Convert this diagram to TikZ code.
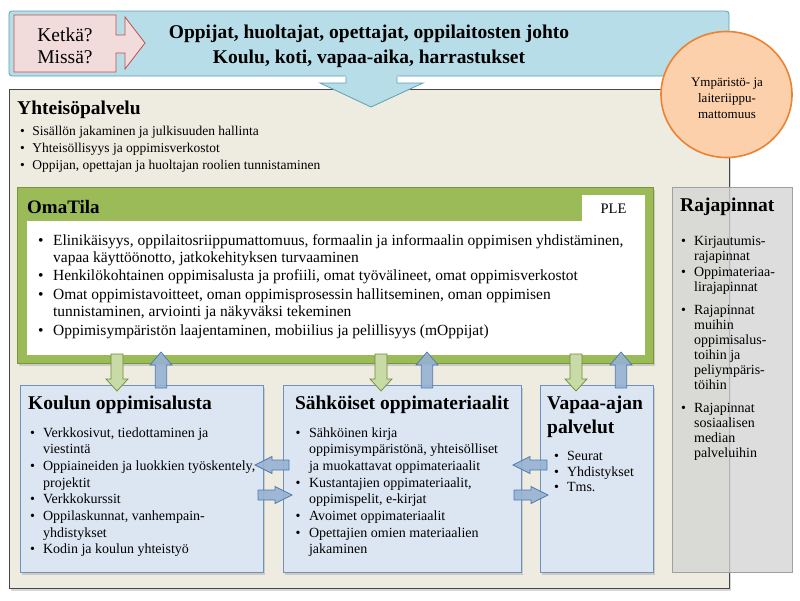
\documentclass[tikz,border=0pt]{standalone}
\usepackage{fontspec}
\setmainfont{Liberation Serif}
\usetikzlibrary{shadows,shapes.geometric}
\definecolor{bannerfill}{RGB}{183,221,232}
\definecolor{bannerline}{RGB}{93,160,180}
\definecolor{pinkfill}{RGB}{242,220,219}
\definecolor{pinkline}{RGB}{192,80,77}
\definecolor{circfill}{RGB}{251,208,170}
\definecolor{circline}{RGB}{236,130,50}
\definecolor{beige}{RGB}{238,236,225}
\definecolor{boxline}{RGB}{70,70,70}
\definecolor{omagreen}{RGB}{155,187,89}
\definecolor{omaline}{RGB}{120,150,60}
\definecolor{lblue}{RGB}{220,230,242}
\definecolor{lblueline}{RGB}{110,145,190}
\definecolor{garrfill}{RGB}{200,218,165}
\definecolor{garrline}{RGB}{110,140,55}
\definecolor{barrfill}{RGB}{150,178,212}
\definecolor{barrline}{RGB}{80,120,170}
\definecolor{rajfill}{RGB}{212,212,212}
\definecolor{rajline}{RGB}{160,160,160}
\newcommand{\fs}[2]{\fontsize{#1}{#2}\selectfont}
\begin{document}
\begin{tikzpicture}[x=1pt,y=-1pt,
  panel/.style={anchor=north west, inner sep=0pt, outer sep=0pt},
  softshadow/.style={drop shadow={opacity=0.3, shadow xshift=2pt, shadow yshift=-2.5pt}},
  bluebox/.style={panel, fill=lblue, draw=lblueline, line width=0.8pt, softshadow},
  txt/.style={anchor=base west, inner sep=0pt},
  ttl/.style={txt, font=\bfseries\fs{19.5}{24}},
  garr/.style={fill=garrfill, draw=garrline, line width=0.7pt},
  barr/.style={fill=barrfill, draw=barrline, line width=0.7pt, fill opacity=0.9},
  downarr/.pic={\path[pic actions] (-6,0) -- (6,0) -- (6,25) -- (11,25) -- (0,37) -- (-11,25) -- (-6,25) -- cycle;},
  uparr/.pic={\path[pic actions] (0,0) -- (11,13) -- (5.7,13) -- (5.7,36) -- (-5.7,36) -- (-5.7,13) -- (-11,13) -- cycle;},
  leftarr/.pic={\path[pic actions] (0,0) -- (17,-8.5) -- (17,-5) -- (34,-5) -- (34,5) -- (17,5) -- (17,8.5) -- cycle;},
]
\fill[white] (0,0) rectangle (800,600);
\useasboundingbox (0,0) rectangle (800,600);

% banner
\node[panel, fill=bannerfill, draw=bannerline, line width=0.8pt, rounded corners=3pt, minimum width=720pt, minimum height=65pt] (banner) at (9,11) {};
\draw[fill=pinkfill, draw=pinkline, line width=0.8pt] (14,15) -- (116,15) -- (116,35) -- (125,35) -- (125,17) -- (145,43) -- (125,69) -- (125,53) -- (116,53) -- (116,72) -- (14,72) -- cycle;
\node[font=\fs{19.5}{22.5}, align=center, inner sep=0pt] (who) at (65,46) {Ketkä?\\Missä?};
\node[font=\bfseries\fs{19.5}{25}, align=center, inner sep=0pt] (wholist) at (369,46) {Oppijat, huoltajat, opettajat, oppilaitosten johto\\Koulu, koti, vapaa-aika, harrastukset};

% community box
\node[panel, fill=beige, draw=boxline, line width=1pt, softshadow, minimum width=720pt, minimum height=499pt] (yp) at (9,89) {};
\fill[bannerfill] (346,75) -- (397,75) -- (397,83) -- (423,83) -- (371,107) -- (320,83) -- (346,83) -- cycle;
\draw[bannerline, line width=0.8pt] (397,76.5) -- (397,83) -- (423,83) -- (371,107) -- (320,83) -- (346,83) -- (346,76.5);

% circle
\node[ellipse, fill=circfill, draw=circline, line width=1.6pt, minimum width=131pt, minimum height=126pt, inner sep=0pt] (env) at (726.5,94.5) {};
\node[font=\fs{13}{16}, align=center, inner sep=0pt] (envtext) at (727,98) {Ympäristö- ja\\laiteriippu-\\mattomuus};

\node[ttl] (yptitle) at (17,114.5) {Yhteisöpalvelu};
\node[txt, font=\fs{13.5}{17}] (ypitems) at (20,135.5) {\begin{tabular}[t]{@{}l@{\hspace{7.5pt}}l@{}}
\textbullet & Sisällön jakaminen ja julkisuuden hallinta\\
\textbullet & Yhteisöllisyys ja oppimisverkostot\\
\textbullet & Oppijan, opettajan ja huoltajan roolien tunnistaminen
\end{tabular}};

% OmaTila
\node[panel, fill=omagreen, draw=omaline, line width=1pt, softshadow, minimum width=636pt, minimum height=176pt] (oma) at (17,187) {};
\node[panel, fill=white, minimum width=618pt, minimum height=134pt] (omabody) at (27,221) {};
\node[panel, fill=white, minimum width=63pt, minimum height=26.5pt, font=\fs{14.5}{17}] (ple) at (582,195) {PLE};
\node[txt, font=\bfseries\fs{19}{22}] (omatitle) at (27,213.5) {OmaTila};
\node[txt, font=\fs{15.5}{17.3}] (omaitems) at (38,245) {\begin{tabular}[t]{@{}l@{\hspace{9.5pt}}l@{}}
\textbullet & Elinikäisyys, oppilaitosriippumattomuus, formaalin ja informaalin oppimisen yhdistäminen,\\
 & vapaa käyttöönotto, jatkokehityksen turvaaminen\\[1.2pt]
\textbullet & Henkilökohtainen oppimisalusta ja profiili, omat työvälineet, omat oppimisverkostot\\[1.2pt]
\textbullet & Omat oppimistavoitteet, oman oppimisprosessin hallitseminen, oman oppimisen\\
 & tunnistaminen, arviointi ja näkyväksi tekeminen\\[1.2pt]
\textbullet & Oppimisympäristön laajentaminen, mobiilius ja pelillisyys (mOppijat)
\end{tabular}};

% bottom boxes
\node[bluebox, minimum width=243pt, minimum height=187pt] (koulu) at (20,385) {};
\node[bluebox, minimum width=238pt, minimum height=187pt] (sahko) at (283,385) {};
\node[bluebox, minimum width=113pt, minimum height=187pt] (vapaa) at (540,385) {};

\node[ttl] (koulutitle) at (28,409.5) {Koulun oppimisalusta};
\node[txt, font=\fs{14}{16.7}] (kouluitems) at (30,437) {\begin{tabular}[t]{@{}l@{\hspace{8pt}}l@{}}
\textbullet & Verkkosivut, tiedottaminen ja\\
 & viestintä\\
\textbullet & Oppiaineiden ja luokkien työskentely,\\
 & projektit\\
\textbullet & Verkkokurssit\\
\textbullet & Oppilaskunnat, vanhempain-\\
 & yhdistykset\\
\textbullet & Kodin ja koulun yhteistyö
\end{tabular}};

\node[anchor=base, inner sep=0pt, font=\bfseries\fs{19.5}{24}] (sahkotitle) at (402,409.5) {Sähköiset oppimateriaalit};
\node[txt, font=\fs{14}{16.7}] (sahkoitems) at (295.5,437) {\begin{tabular}[t]{@{}l@{\hspace{8.5pt}}l@{}}
\textbullet & Sähköinen kirja\\
 & oppimisympäristönä, yhteisölliset\\
 & ja muokattavat oppimateriaalit\\
\textbullet & Kustantajien oppimateriaalit,\\
 & oppimispelit, e-kirjat\\
\textbullet & Avoimet oppimateriaalit\\
\textbullet & Opettajien omien materiaalien\\
 & jakaminen
\end{tabular}};

\node[txt, font=\bfseries\fs{19.5}{24}] (vapaatitle) at (547,409.5) {\begin{tabular}[t]{@{}l@{}}Vapaa-ajan\\palvelut\end{tabular}};
\node[txt, font=\fs{14}{15.7}] (vapaaitems) at (554,460.5) {\begin{tabular}[t]{@{}l@{\hspace{8pt}}l@{}}
\textbullet & Seurat\\
\textbullet & Yhdistykset\\
\textbullet & Tms.
\end{tabular}};

% block arrows
\pic[garr] at (117,354) {downarr};
\pic[barr] at (161,352) {uparr};
\pic[garr] at (381,354) {downarr};
\pic[barr] at (427,352) {uparr};
\pic[garr] at (576,354) {downarr};
\pic[barr] at (621,352) {uparr};
\pic[barr] at (255,465) {leftarr};
\pic[barr, xscale=-1] at (292,495) {leftarr};
\pic[barr] at (513,465) {leftarr};
\pic[barr, xscale=-1] at (548,495) {leftarr};

% interfaces
\node[panel, fill=rajfill, fill opacity=0.78, draw=rajline, line width=0.8pt, minimum width=120pt, minimum height=385pt] (raj) at (672,187) {};
\node[ttl] (rajtitle) at (680,211.5) {Rajapinnat};
\node[txt, font=\fs{14}{15}] (rajitems) at (681,245) {\begin{tabular}[t]{@{}l@{\hspace{8pt}}l@{}}
\textbullet & Kirjautumis-\\
 & rajapinnat\\[1pt]
\textbullet & Oppimateriaa-\\
 & lirajapinnat\\[8.5pt]
\textbullet & Rajapinnat\\
 & muihin\\
 & oppimisalus-\\
 & toihin ja\\
 & peliympäris-\\
 & töihin\\[7.5pt]
\textbullet & Rajapinnat\\
 & sosiaalisen\\
 & median\\
 & palveluihin
\end{tabular}};
\end{tikzpicture}
\end{document}
